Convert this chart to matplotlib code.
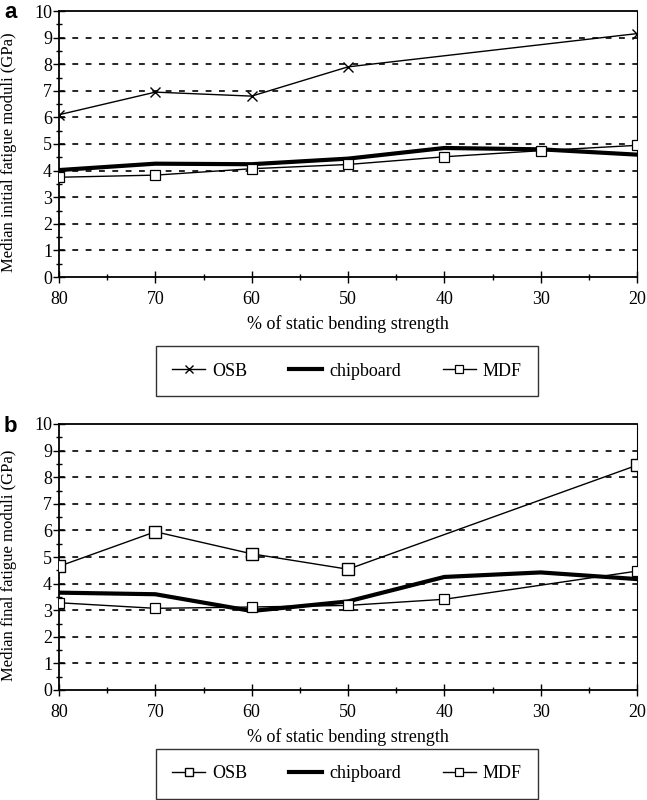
import matplotlib
matplotlib.use("Agg")
import matplotlib.pyplot as plt
from matplotlib.ticker import MultipleLocator
import numpy as np

plt.rcParams["font.family"] = ["Liberation Serif", "DejaVu Serif"]

# % of static bending strength
strength = [80, 70, 60, 50, 40, 30, 20]
osb_strength = [80, 70, 60, 50, 20]
mdf_b_strength = [80, 70, 60, 50, 40, 20]

# (a) median initial fatigue moduli, GPa
osb_initial = [6.1, 6.95, 6.8, 7.9, 9.15]
chip_initial = [4.02, 4.26, 4.24, 4.45, 4.85, 4.8, 4.6]
mdf_initial = [3.75, 3.83, 4.07, 4.23, 4.52, 4.75, 4.95]

# (b) median final fatigue moduli, GPa
osb_final = [4.65, 5.95, 5.12, 4.54, 8.45]
chip_final = [3.66, 3.6, 2.97, 3.33, 4.25, 4.42, 4.17]
mdf_final = [3.28, 3.07, 3.12, 3.18, 3.41, 4.47]

W, H = 647, 800


def setup_axes(ax, ylabel):
    ax.set_xlim(80, 20)
    ax.set_ylim(0, 10)
    ax.xaxis.set_major_locator(MultipleLocator(10))
    ax.xaxis.set_minor_locator(MultipleLocator(5))
    ax.yaxis.set_major_locator(MultipleLocator(1))
    ax.yaxis.set_minor_locator(MultipleLocator(0.5))
    ax.tick_params(which="major", direction="inout", length=8, width=1.0,
                   labelsize=13)
    ax.tick_params(which="minor", direction="inout", length=5, width=1.0)
    ax.tick_params(axis="x", which="major", pad=6)
    ax.tick_params(axis="y", which="major", pad=1)
    for y in range(1, 10):
        ax.axhline(y, color="black", lw=1.2, linestyle=(0, (3.5, 4.5)), zorder=1)
    for side in ["left", "bottom", "top"]:
        ax.spines[side].set_linewidth(1.3)
    ax.spines["right"].set_linewidth(0.8)
    ax.set_xlabel("% of static bending strength", fontsize=13, labelpad=5)
    ax.set_ylabel(ylabel, fontsize=12)
    ax.yaxis.set_label_coords(-0.072, 0.47)


fig = plt.figure(figsize=(W / 100, H / 100), dpi=100)

ax_a = fig.add_axes([59 / W, 1 - 277 / H, 578 / W, 266 / H])
ax_b = fig.add_axes([59 / W, 1 - 690 / H, 578 / W, 266 / H])

# panel a
ax_a.plot(osb_strength, osb_initial, color="black", lw=1.0, marker="x",
          ms=7, mew=1.0, label="OSB", zorder=3)
ax_a.plot(strength, chip_initial, color="black", lw=3.0, label="chipboard",
          zorder=3)
ax_a.plot(strength, mdf_initial, color="black", lw=1.0, marker="s", ms=7,
          mfc="white", mew=0.9, label="MDF", zorder=3)
setup_axes(ax_a, "Median initial fatigue moduli (GPa)")

# panel b
ax_b.plot(osb_strength, osb_final, color="black", lw=1.0, marker="s", ms=8,
          mfc="white", mew=1.0, label="OSB", zorder=3)
ax_b.plot(strength, chip_final, color="black", lw=3.0, label="chipboard",
          zorder=3)
ax_b.plot(mdf_b_strength, mdf_final, color="black", lw=1.0, marker="s", ms=7,
          mfc="white", mew=0.9, label="MDF", zorder=3)
setup_axes(ax_b, "Median final fatigue moduli (GPa)")

# legend boxes: x 156-538 px
for ax, top in [(ax_a, 347), (ax_b, 750)]:
    leg = ax.legend(loc="center", mode="expand",
                    bbox_to_anchor=(156 / W, 1 - (top + 48) / H, 382 / W, 48 / H),
                    bbox_transform=fig.transFigure, ncol=3, fontsize=13,
                    frameon=True, fancybox=False, edgecolor="black",
                    handlelength=1.8, handletextpad=0.4, columnspacing=1.0,
                    borderpad=0.9, borderaxespad=0, markerscale=0.8)
    leg.get_frame().set_linewidth(1.0)

fig.text(4 / W, 1 - 13 / H, "a", fontsize=16, fontweight="bold",
         family="Liberation Sans", va="center")
fig.text(4 / W, 1 - 427 / H, "b", fontsize=16, fontweight="bold",
         family="Liberation Sans", va="center")

fig.savefig("out.png", dpi=100)
